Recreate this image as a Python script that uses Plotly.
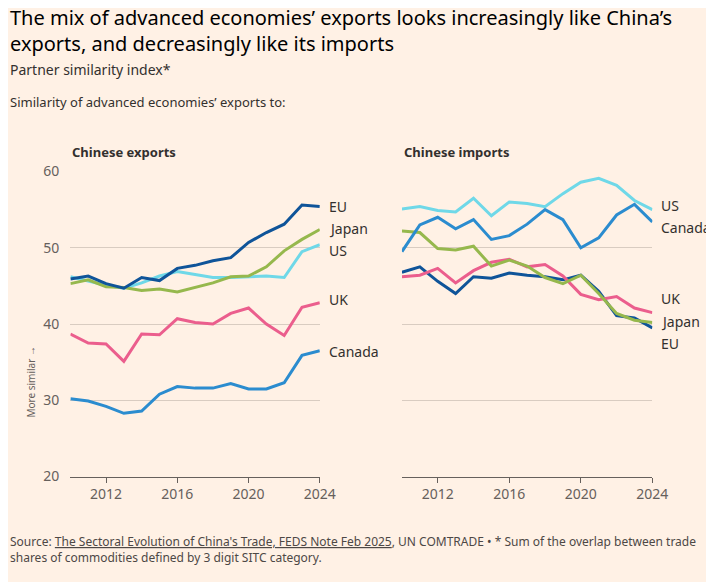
import plotly.graph_objects as go

years = list(range(2010, 2025))

# similarity to Chinese exports
exp_eu = [45.9, 46.3, 45.3, 44.7, 46.1, 45.7, 47.3, 47.7, 48.3, 48.7, 50.7, 52.0, 53.1, 55.6, 55.4]
exp_japan = [45.3, 45.8, 44.9, 44.8, 44.4, 44.6, 44.2, 44.8, 45.4, 46.2, 46.3, 47.5, 49.6, 51.1, 52.4]
exp_us = [46.2, 45.7, 45.1, 44.7, 45.4, 46.3, 46.9, 46.5, 46.1, 46.1, 46.2, 46.3, 46.1, 49.5, 50.4]
exp_uk = [38.7, 37.5, 37.4, 35.1, 38.7, 38.6, 40.7, 40.2, 40.0, 41.4, 42.1, 40.0, 38.5, 42.2, 42.8]
exp_canada = [30.2, 29.9, 29.2, 28.3, 28.6, 30.8, 31.8, 31.6, 31.6, 32.2, 31.5, 31.5, 32.3, 35.9, 36.5]

# similarity to Chinese imports
imp_us = [55.1, 55.4, 54.9, 54.7, 56.5, 54.2, 56.0, 55.8, 55.4, 57.1, 58.6, 59.1, 58.2, 56.2, 55.0]
imp_canada = [49.5, 53.0, 54.0, 52.5, 53.7, 51.1, 51.6, 53.1, 55.0, 53.7, 50.0, 51.3, 54.3, 55.7, 53.4]
imp_japan = [52.2, 52.0, 49.9, 49.7, 50.2, 47.6, 48.4, 47.6, 46.1, 45.3, 46.4, 44.0, 41.4, 40.5, 40.2]
imp_uk = [46.2, 46.4, 47.3, 45.4, 47.0, 48.1, 48.5, 47.5, 47.8, 46.3, 43.9, 43.2, 43.6, 42.1, 41.5]
imp_eu = [46.8, 47.5, 45.6, 44.0, 46.2, 46.0, 46.7, 46.4, 46.2, 45.8, 46.4, 44.3, 41.1, 40.8, 39.5]

colors = {'EU': '#0f5499', 'Japan': '#96b84d', 'US': '#6fd8e8', 'UK': '#eb5e8d', 'Canada': '#2b8ccf'}

left = [('Canada', exp_canada), ('UK', exp_uk), ('US', exp_us), ('Japan', exp_japan), ('EU', exp_eu)]
right = [('EU', imp_eu), ('UK', imp_uk), ('Japan', imp_japan), ('Canada', imp_canada), ('US', imp_us)]
left_label_y = {'EU': 55.4, 'Japan': 52.5, 'US': 49.6, 'UK': 43.2, 'Canada': 36.4}
right_label_y = {'US': 55.5, 'Canada': 52.6, 'UK': 43.4, 'Japan': 40.4, 'EU': 37.5}

W, H = 714, 582
FONT = 'Noto Sans'

# the page ends up slightly offset/scaled; map reference pixels to layout pixels
def fx(x):
    return (x - 7.7) / 0.976 / W

def fy(y):
    return 1 - (y - 18) / 0.964 / H

fig = go.Figure()

for name, vals in left:
    fig.add_trace(go.Scatter(x=years, y=vals, mode='lines', line=dict(color=colors[name], width=3),
                             xaxis='x', yaxis='y', showlegend=False))
for name, vals in right:
    fig.add_trace(go.Scatter(x=years, y=vals, mode='lines', line=dict(color=colors[name], width=3),
                             xaxis='x2', yaxis='y2', showlegend=False))

ann = []
for name, yv in left_label_y.items():
    ann.append(dict(x=2024, y=yv, xref='x', yref='y', text=name, showarrow=False, xanchor='left',
                    xshift=7, font=dict(size=14, color='#33302e')))
for name, yv in right_label_y.items():
    ann.append(dict(x=2024, y=yv, xref='x2', yref='y2', text=name, showarrow=False, xanchor='left',
                    xshift=7, font=dict(size=14, color='#33302e')))

texts = [
    (8, 30, 'The mix of advanced economies’ exports looks increasingly like China’s<br>exports, and decreasingly like its imports', 20, '#000000'),
    (8, 69, 'Partner similarity index*', 14, '#33302e'),
    (8, 102, 'Similarity of advanced economies’ exports to:', 13, '#33302e'),
    (70, 152, '<b>Chinese exports</b>', 13, '#33302e'),
    (401, 152, '<b>Chinese imports</b>', 13, '#33302e'),
    (8, 548, 'Source: <u>The Sectoral Evolution of China\'s Trade, FEDS Note Feb 2025</u>, UN COMTRADE • * Sum of the overlap between trade<br>shares of commodities defined by 3 digit SITC category.', 12, '#4d4845'),
]
for x, y, t, s, c in texts:
    ann.append(dict(x=fx(x), y=fy(y), xref='paper', yref='paper', text=t, showarrow=False, xanchor='left',
                    yanchor='middle', align='left', font=dict(size=s, color=c)))
ann.append(dict(x=fx(22), y=fy(380), xref='paper', yref='paper', text='More similar →', textangle=-90,
                showarrow=False, font=dict(size=10, color='#66605c')))

yaxis_common = dict(range=[20, 60], tickvals=[20, 30, 40, 50, 60], showgrid=True, gridcolor='#d9ccc1',
                    zeroline=False, tickfont=dict(size=14, color='#66605c'))
xaxis_common = dict(range=[2010, 2024], tickvals=[2012, 2016, 2020, 2024], showgrid=False, zeroline=False,
                    showline=True, linecolor='#66605c', ticks='outside', ticklen=5, tickcolor='#66605c',
                    tickfont=dict(size=14, color='#66605c'))

fig.update_layout(
    width=W, height=H,
    margin=dict(l=0, r=0, t=0, b=0),
    paper_bgcolor='#fff1e5', plot_bgcolor='#fff1e5',
    font=dict(family=FONT),
    xaxis=dict(domain=[fx(70), fx(319)], anchor='y', **xaxis_common),
    yaxis=dict(domain=[fy(475), fy(171)], anchor='x', ticklabelstandoff=10, **yaxis_common),
    xaxis2=dict(domain=[fx(401), fx(651)], anchor='y2', **xaxis_common),
    yaxis2=dict(domain=[fy(475), fy(171)], anchor='x2', showticklabels=False, **yaxis_common),
    annotations=ann,
)

fig.write_html('out.html')
